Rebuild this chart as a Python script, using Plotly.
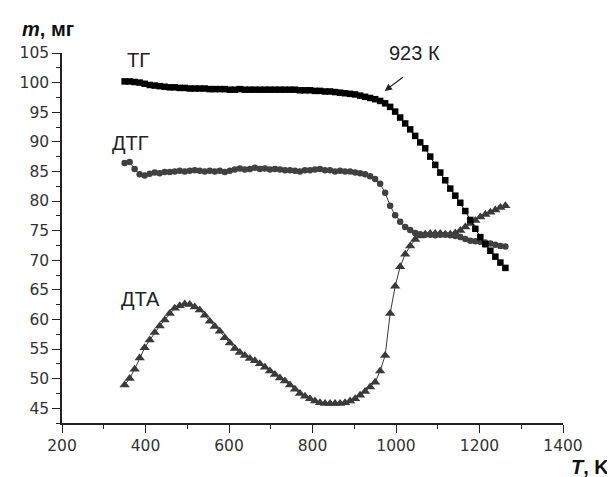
import plotly.graph_objects as go

# Temperature, K
T = [350, 362, 374, 386, 398, 410, 422, 434, 446, 458, 470, 482, 494, 506, 518, 530, 542, 554,
     566, 578, 590, 602, 614, 626, 638, 650, 662, 674, 686, 698, 710, 722, 734, 746, 758, 770,
     782, 794, 806, 818, 830, 842, 854, 866, 878, 890, 902, 914, 926, 938, 950, 962, 974, 986,
     998, 1010, 1022, 1034, 1046, 1058, 1070, 1082, 1094, 1106, 1118, 1130, 1142, 1154, 1166,
     1178, 1190, 1202, 1214, 1226, 1238, 1250, 1262]

TG = [100.2, 100.2, 100.1, 100.0, 99.8, 99.6, 99.5, 99.4, 99.3, 99.2, 99.2, 99.1, 99.1, 99.0,
      99.0, 99.0, 99.0, 98.9, 98.9, 98.9, 98.9, 98.8, 98.8, 98.9, 98.8, 98.8, 98.8, 98.8, 98.8,
      98.8, 98.8, 98.8, 98.8, 98.8, 98.8, 98.7, 98.7, 98.7, 98.6, 98.6, 98.5, 98.5, 98.4, 98.3,
      98.2, 98.1, 98.0, 97.8, 97.6, 97.4, 97.2, 96.9, 96.5, 95.9, 95.1, 94.1, 93.1, 92.1, 91.0,
      89.9, 88.9, 87.5, 86.1, 84.8, 83.5, 82.1, 80.9, 79.7, 78.3, 76.8, 75.3, 73.9, 72.7, 71.6,
      70.6, 69.6, 68.7]

DTG = [86.4, 86.6, 85.4, 84.5, 84.3, 84.6, 84.8, 84.7, 84.9, 84.9, 85.0, 85.1, 85.0, 85.1,
       85.2, 85.1, 85.0, 85.1, 85.0, 85.1, 84.9, 85.1, 85.3, 85.5, 85.3, 85.4, 85.6, 85.4, 85.5,
       85.3, 85.4, 85.3, 85.2, 85.2, 85.1, 85.0, 85.2, 85.2, 85.3, 85.4, 85.2, 85.2, 85.0, 85.1,
       85.0, 85.0, 84.8, 84.7, 84.5, 84.2, 83.7, 82.9, 81.4, 79.2, 77.6, 76.5, 75.6, 75.1, 74.6,
       74.4, 74.3, 74.3, 74.2, 74.3, 74.3, 74.2, 74.1, 73.9, 73.6, 73.3, 73.2, 73.1, 73.0, 72.8,
       72.6, 72.4, 72.3]

DTA = [48.9, 50.0, 51.6, 53.5, 55.2, 56.5, 57.8, 58.9, 59.9, 61.0, 61.9, 62.3, 62.6, 62.5,
       62.1, 61.6, 60.7, 59.7, 58.8, 58.0, 56.9, 56.0, 55.1, 54.4, 53.9, 53.4, 53.0, 52.5, 51.9,
       51.3, 50.7, 50.1, 49.6, 48.9, 48.2, 47.5, 47.0, 46.6, 46.2, 45.9, 45.8, 45.8, 45.8, 45.8,
       45.9, 46.2, 46.6, 47.2, 47.8, 48.6, 49.4, 51.3, 53.9, 61.0, 65.6, 68.9, 71.0, 72.4, 73.5,
       74.1, 74.4, 74.5, 74.5, 74.5, 74.4, 74.4, 74.6, 75.0, 75.6, 76.2, 76.7, 77.3, 77.7, 78.1,
       78.5, 78.9, 79.2]

X_TICKS = [200, 400, 600, 800, 1000, 1200, 1400]
Y_TICKS = [45, 50, 55, 60, 65, 70, 75, 80, 85, 90, 95, 100, 105]

FONT = "Liberation Sans, Arial, sans-serif"
TICK_FONT = "DejaVu Sans, Verdana, sans-serif"

fig = go.Figure()
fig.add_trace(go.Scatter(x=T, y=DTA, mode="lines+markers",
                         line=dict(color="#3a3a3a", width=1),
                         marker=dict(symbol="triangle-up", size=9, color="#3a3a3a")))
fig.add_trace(go.Scatter(x=T, y=DTG, mode="lines+markers",
                         line=dict(color="#404040", width=1),
                         marker=dict(symbol="circle", size=6.5, color="#404040")))
fig.add_trace(go.Scatter(x=T, y=TG, mode="lines+markers",
                         line=dict(color="#000000", width=1),
                         marker=dict(symbol="square", size=6.5, color="#000000")))

axis_common = dict(showgrid=False, zeroline=False, showline=True, linecolor="#222",
                   linewidth=1.5, ticks="outside", tickcolor="#222", tickwidth=1.2, ticklen=8,
                   tickfont=dict(family=TICK_FONT, size=15.5, color="#333"))

fig.update_xaxes(range=[200, 1400], tickvals=X_TICKS,
                 minor=dict(dtick=100, ticks="outside", ticklen=4, tickcolor="#222"),
                 **axis_common)
fig.update_yaxes(range=[42.5, 105], tickvals=Y_TICKS,
                 minor=dict(dtick=2.5, ticks="outside", ticklen=4, tickcolor="#222"),
                 **axis_common)

label_font = dict(family=FONT, size=20, color="#222")
annotations = [
    dict(x=383, y=103.8, text="ТГ", showarrow=False, font=label_font),
    dict(x=364, y=89.8, text="ДТГ", showarrow=False, font=label_font),
    dict(x=387, y=63.4, text="ДТА", showarrow=False, font=label_font),
    dict(x=1044, y=105.0, text="923 К", showarrow=False, font=label_font),
    dict(x=973, y=98.6, ax=1020, ay=101.1, axref="x", ayref="y", text="",
         showarrow=True, arrowhead=2, arrowsize=1.2, arrowwidth=1.2, arrowcolor="#222"),
    dict(x=-0.083, y=1.065, xref="paper", yref="paper", xanchor="left", yanchor="middle",
         text="<b><i>m</i>, мг</b>", showarrow=False,
         font=dict(family=FONT, size=20, color="#111")),
    dict(x=1.054, y=-0.119, xref="paper", yref="paper", xanchor="center", yanchor="middle",
         text="<b><i>T</i>, K</b>", showarrow=False,
         font=dict(family=FONT, size=20, color="#111")),
]

# the page body adds an 8 px offset, so the figure is sized and margined to compensate
fig.update_layout(width=607, height=469, margin=dict(l=49, r=52, t=45, b=54),
                  plot_bgcolor="white", paper_bgcolor="white", showlegend=False,
                  annotations=annotations)

fig.write_html("out.html")
